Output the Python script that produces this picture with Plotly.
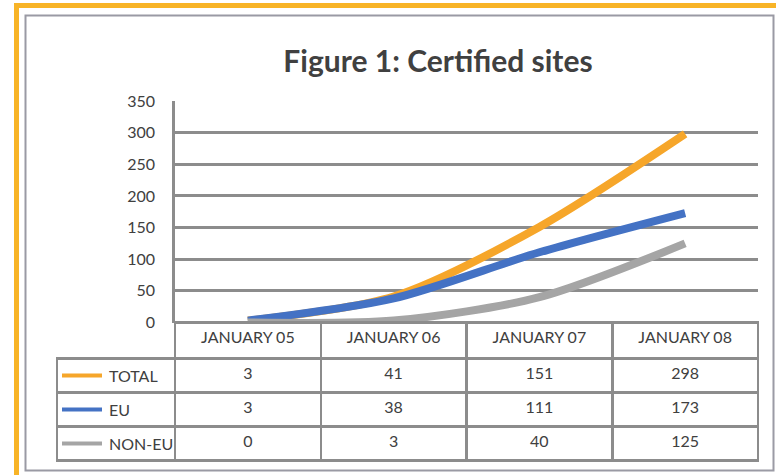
import plotly.graph_objects as go

# ---- data ----
categories = ["JANUARY 05", "JANUARY 06", "JANUARY 07", "JANUARY 08"]
series_names = ["TOTAL", "EU", "NON-EU"]
total = [3, 41, 151, 298]
eu = [3, 38, 111, 173]
non_eu = [0, 3, 40, 125]
y_ticks = [0, 50, 100, 150, 200, 250, 300, 350]

colors = ["#F6A62A", "#4472C4", "#A5A5A5"]
series_values = [total, eu, non_eu]

W, H = 776, 475
FONT = "Lato, 'Open Sans', sans-serif"
TXT = "#404040"
GRID = "#8C8C8C"

def px(x):
    return x / W

def py(y):
    return 1 - y / H

# plot-area geometry (pixels)
PL, PR = 175, 758
PT, PB = 101, 322.5
# table geometry
TL = 57
HEAD_H, ROW_H = 36, 34

fig = go.Figure()

for name, vals, col in zip(series_names, series_values, colors):
    fig.add_trace(go.Scatter(
        x=categories, y=vals, name=name, mode="lines",
        line=dict(color=col, width=8, shape="spline", smoothing=0.8),
        showlegend=False, hoverinfo="skip",
    ))

# data table below the chart
col_w = [PL - TL] + [(PR - PL) / 4] * 4
fig.add_trace(go.Table(
    domain=dict(x=[px(TL), px(PR)], y=[0, py(PB)]),
    columnwidth=col_w,
    header=dict(
        values=[""] + categories,
        height=HEAD_H,
        align="center",
        font=dict(family=FONT, size=16, color=TXT),
        fill=dict(color=["rgba(0,0,0,0)"] + ["white"] * 4),
        line=dict(color=["rgba(0,0,0,0)"] + [GRID] * 4, width=2.5),
    ),
    cells=dict(
        values=[[""] * 3] + [[s[i] for s in series_values] for i in range(4)],
        height=ROW_H,
        align="center",
        font=dict(family=FONT, size=16, color=TXT),
        fill=dict(color="white"),
        line=dict(color=GRID, width=2.5),
    ),
))

shapes = []
annotations = []
# legend keys in the first table column
for i, (name, col) in enumerate(zip(series_names, colors)):
    yc = PB + HEAD_H + ROW_H * i + ROW_H / 2
    shapes.append(dict(type="line", xref="paper", yref="paper",
                       x0=px(62), x1=px(102), y0=py(yc), y1=py(yc),
                       line=dict(color=col, width=4), layer="above"))
    annotations.append(dict(xref="paper", yref="paper", x=px(107), y=py(yc),
                            xanchor="left", yanchor="middle", showarrow=False,
                            text=name, font=dict(family=FONT, size=16, color=TXT)))

# outer orange frame and inner grey frame
shapes.append(dict(type="rect", xref="paper", yref="paper",
                   x0=px(16.5), x1=px(800), y0=py(5.5), y1=py(500),
                   line=dict(color="#F8B427", width=5), layer="below"))
shapes.append(dict(type="rect", xref="paper", yref="paper",
                   x0=px(25.5), x1=px(773.5), y0=py(15.5), y1=py(470.5),
                   line=dict(color="#9A9AA4", width=2), layer="below"))

fig.update_layout(
    width=W, height=H,
    margin=dict(l=0, r=0, t=0, b=0, autoexpand=False),
    paper_bgcolor="white", plot_bgcolor="white",
    title=dict(text="<b>Figure 1: Certified sites</b>", x=px(438), y=py(61),
               xanchor="center", yanchor="middle", xref="paper", yref="container",
               font=dict(family=FONT, size=30, color=TXT)),
    xaxis=dict(domain=[px(PL), px(PR)], range=[-0.5, 3.5], showticklabels=False,
               showgrid=False, zeroline=False, showline=False, fixedrange=True),
    yaxis=dict(domain=[py(PB), py(PT)], range=[0, 350], tickvals=y_ticks,
               showgrid=True, gridcolor=GRID, gridwidth=2.5,
               zeroline=True, zerolinecolor=GRID, zerolinewidth=2.5,
               showline=True, linecolor=GRID, linewidth=2.5,
               ticks="", ticklabelstandoff=14,
               tickfont=dict(family=FONT, size=16, color=TXT), fixedrange=True),
    shapes=shapes,
    annotations=annotations,
)

fig.write_html("out.html",
               config={"displayModeBar": False},
               post_script="document.body.style.margin='0';document.body.style.overflow='hidden';")
